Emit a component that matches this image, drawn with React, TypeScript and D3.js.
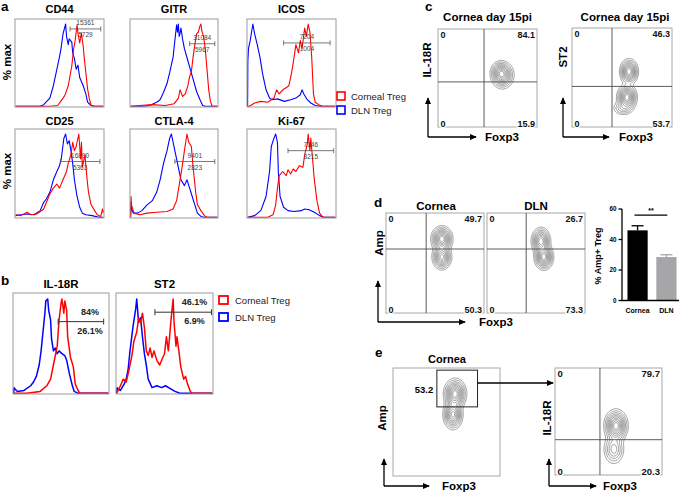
import React from 'react';
import * as d3 from 'd3';

const FONT = 'Liberation Sans, Arial, Helvetica, sans-serif';
const RED = '#ff0000';
const BLUE = '#0000ff';

// ---------- Panel a: histograms, [x (% of axis), % max] ----------
const cd44Corneal = [[0,0],[39,0],[48,1],[56,13],[60,25],[64,49],[66,69],[68,81],[70,99],[71,89],[73,77],[75,89],[77,73],[78,61],[80,41],[82,21],[84,9],[86,1],[90,0],[100,0]];
const cd44DLN = [[0,0],[28,0],[32,2],[39,10],[43,25],[47,45],[50,60],[52,72],[54,88],[57,100],[58,85],[60,75],[61,82],[64,78],[65,65],[67,58],[69,45],[71,50],[73,35],[77,25],[80,15],[82,5],[86,1],[90,0],[100,0]];
const gitrCorneal = [[0,0],[10,1],[25,2],[40,1],[50,3],[55,10],[57,20],[60,12],[63,15],[66,25],[68,36],[70,42],[72,60],[74,75],[76,88],[78,90],[80,98],[81,100],[82,92],[84,85],[86,70],[88,45],[90,20],[92,6],[94,0],[100,0]];
const gitrDLN = [[0,0],[15,0],[22,1],[30,5],[34,8],[38,17],[42,28],[45,41],[49,60],[51,80],[53,99],[54,90],[55,100],[56,85],[57,89],[58,95],[60,81],[62,70],[65,59],[68,48],[72,33],[76,18],[80,8],[83,1],[86,0],[100,0]];
const icosCorneal = [[0,0],[2,0],[8,4],[15,6],[23,5],[30,10],[33,20],[36,15],[40,20],[43,22],[47,25],[50,40],[53,60],[55,75],[58,65],[60,80],[62,70],[65,95],[67,85],[69,100],[71,90],[73,60],[75,15],[77,5],[81,2],[85,0],[100,0]];
const icosDLN = [[0,0],[0.3,55],[1,70],[3,80],[6,100],[8,88],[11,75],[14,60],[17,40],[21,20],[25,10],[28,8],[34,9],[42,6],[49,8],[55,10],[60,14],[62,20],[64,15],[68,8],[72,4],[77,1],[83,0],[100,0]];
const cd25Corneal = [[0,3],[6,2],[13,6],[17,3],[24,4],[32,10],[39,28],[43,35],[47,40],[50,35],[54,45],[58,55],[60,65],[63,75],[65,90],[67,80],[69,85],[72,100],[74,70],[75,90],[76,60],[79,75],[81,50],[83,30],[86,15],[90,8],[93,3],[97,1],[99,10],[100,5]];
const cd25DLN = [[0,2],[6,3],[13,4],[21,3],[28,8],[32,18],[35,22],[39,30],[43,45],[47,55],[50,62],[52,70],[55,95],[57,100],[59,88],[61,92],[63,80],[65,65],[67,45],[70,25],[73,12],[76,5],[80,3],[87,2],[95,0],[100,0]];
const ctla4Corneal = [[0,0],[0.5,25],[1,15],[4,5],[11,3],[19,5],[30,6],[42,7],[49,10],[53,20],[57,45],[60,65],[62,80],[65,100],[67,90],[70,85],[72,60],[75,30],[77,15],[81,8],[85,2],[88,0],[100,0]];
const ctla4DLN = [[0,0],[0.5,18],[1,10],[3,5],[8,5],[13,8],[19,15],[25,20],[30,30],[34,45],[38,65],[42,80],[45,95],[47,100],[49,90],[52,75],[55,60],[58,45],[62,38],[65,45],[68,35],[71,25],[74,15],[77,5],[81,1],[85,0],[100,0]];
const ki67Corneal = [[0,0],[23,0],[29,3],[32,15],[34,35],[36,50],[40,55],[44,50],[46,57],[49,52],[52,58],[55,55],[59,62],[63,60],[65,75],[68,88],[69,100],[71,80],[72,95],[74,70],[76,45],[79,20],[82,5],[86,0],[100,0]];
const ki67DLN = [[0,0],[8,2],[15,8],[21,25],[25,55],[27,85],[30,95],[32,100],[34,90],[35,55],[37,25],[41,12],[46,8],[53,7],[61,8],[65,10],[70,9],[76,6],[82,2],[87,0],[100,0]];

const markersA = ['CD44', 'GITR', 'ICOS', 'CD25', 'CTLA-4', 'Ki-67'];
const gateRangesA = [[62,97],[68,97],[41,94],[51,96],[51,97],[46,98]];
const gateLevelsA = [94, 76, 77, 67, 67, 80];
const gateLabelsA = [['15361','5729'],['31084','5967'],['7204','1004'],['16890','5363'],['9401','2823'],['7146','3215']];

// ---------- Panel b ----------
const il18rCorneal = [[0,0],[14,0],[28,2],[35,8],[39,15],[42,30],[46,50],[48,78],[50,95],[51,100],[53,85],[54,98],[56,88],[57,60],[60,38],[63,28],[65,10],[68,3],[70,0],[100,0]];
const il18rDLN = [[0,0],[0.5,6],[1,5],[4,2],[11,3],[18,8],[21,12],[24,18],[27,30],[29,45],[31,65],[33,85],[34,98],[36,100],[37,88],[39,78],[40,58],[42,45],[44,48],[46,42],[48,45],[51,42],[54,40],[56,35],[59,20],[62,8],[64,2],[68,0],[100,0]];
const st2Corneal = [[0,0],[4,8],[7,15],[10,12],[13,25],[16,40],[18,55],[21,65],[23,80],[25,75],[27,85],[29,70],[31,45],[33,40],[35,48],[37,38],[39,45],[42,35],[45,30],[47,35],[50,42],[52,60],[54,45],[57,80],[59,100],[60,75],[62,50],[63,60],[65,45],[67,28],[70,15],[72,18],[74,10],[77,2],[79,0],[100,0]];
const st2DLN = [[0,0],[0.5,6],[1,5],[4,3],[8,10],[10,15],[12,25],[14,45],[17,70],[20,90],[21,100],[23,75],[25,80],[27,60],[29,42],[31,30],[33,15],[37,6],[42,8],[47,6],[51,8],[56,5],[61,2],[66,0],[100,0]];
const markersB = ['IL-18R', 'ST2'];
const gateRangesB = [[47,95],[40,99]];
const gateLevelsB = [76, 86];
const gateLabelsB = [['84%','26.1%'],['46.1%','6.9%']];

const legendLabels = ['Corneal Treg', 'DLN Treg'];

// ---------- Flow plots: quadrant values [TL, TR, BL, BR] ----------
const quadC1 = ['0', '84.1', '0', '15.9'];
const quadC2 = ['0', '46.3', '0', '53.7'];
const quadD1 = ['0', '49.7', '0', '50.3'];
const quadD2 = ['0', '26.7', '0', '73.3'];
const quadE2 = ['0', '79.7', '0', '20.3'];
const gateE1 = '53.2';
// quadrant split (x %, y %)
const splitC1 = [46.5, 46];
const splitC2 = [40, 41];
const splitD1 = [41, 64];
const splitD2 = [40, 64];
const splitE2 = [42, 33];
const gateRectE1 = [41, 79, 64, 98]; // x0,x1,y0,y1 in %
// density blobs: [cx, cy, sx, sy, weight] in % units
const blobsC1 = [[65, 53, 5, 6, 1], [62, 57, 4, 4.5, 0.3]];
const blobsC2 = [[57, 56, 4, 5.5, 0.9], [55, 30, 4.3, 5.5, 1], [51, 19, 5, 3.5, 0.25]];
const blobsD1 = [[57, 74, 4.7, 5.5, 1], [57, 56, 4.3, 5.5, 0.85]];
const blobsD2 = [[55, 72, 4.2, 5.8, 0.9], [58, 56, 4.2, 5.5, 1]];
const blobsE1 = [[58, 76, 4.5, 6, 1], [56, 57, 4, 6, 0.85]];
const blobsE2 = [[57, 46, 4.7, 6.5, 1], [55, 24, 4.5, 6.5, 0.4]];
const contourLevels = [0.05, 0.1, 0.17, 0.25, 0.34, 0.44, 0.55, 0.67, 0.79, 0.9];

// ---------- Panel d bar chart ----------
const barCategories = ['Cornea', 'DLN'];
const barValues = [46, 28.5];
const barErrors = [3, 1.5];
const barTicks = [0, 20, 40, 60];
const sigLabel = '**';

type Box = { x: number; y: number; w: number; h: number };

function Hist({ box, curves, title, titleY, gateR, gateL, labels, lw, top, bold, gateFrac }: any) {
  const xs = d3.scaleLinear().domain([0, 100]).range([box.x + 0.6, box.x + box.w - 0.6]);
  const ys = d3.scaleLinear().domain([0, 100]).range([box.y + box.h - 0.7, box.y + top]);
  const line = d3.line<number[]>().x(d => xs(d[0])).y(d => ys(d[1]));
  const gx1 = xs(gateR[0]), gx2 = xs(gateR[1]), gy = ys(gateL);
  const tx = gx1 + (gx2 - gx1) * gateFrac;
  const tick = bold ? 3 : 2.5;
  return (
    <g>
      <text x={box.x + box.w / 2} y={titleY} textAnchor="middle" fontSize={bold ? 11.5 : 11} fontWeight="bold" fill="#000">{title}</text>
      {curves.map((c: any, i: number) => (
        <path key={i} d={line(c.data) as string} fill="none" stroke={c.color} strokeWidth={lw} strokeLinejoin="round" />
      ))}
      <rect x={box.x} y={box.y} width={box.w} height={box.h} fill="none" stroke="#9a9a9a" strokeWidth={1} />
      <line x1={gx1} x2={gx2} y1={gy} y2={gy} stroke={bold ? '#333' : '#555'} strokeWidth={bold ? 1 : 0.8} />
      <line x1={gx1} x2={gx1} y1={gy - tick} y2={gy + tick} stroke={bold ? '#333' : '#555'} strokeWidth={bold ? 1 : 0.8} />
      <line x1={gx2} x2={gx2} y1={gy - tick} y2={gy + tick} stroke={bold ? '#333' : '#555'} strokeWidth={bold ? 1 : 0.8} />
      <text x={tx} y={gy - (bold ? 7 : 3.5)} textAnchor="middle" fontSize={bold ? 9 : 6.5} fontWeight={bold ? 'bold' : 'normal'} fill={bold ? '#222' : '#444'}>{labels[0]}</text>
      <text x={tx} y={gy + (bold ? 12 : 8.5)} textAnchor="middle" fontSize={bold ? 9 : 6.5} fontWeight={bold ? 'bold' : 'normal'} fill={bold ? '#222' : '#444'}>{labels[1]}</text>
    </g>
  );
}

function contourPaths(blobs: number[][], box: Box) {
  const n = 100, m = 100;
  const vals: number[] = new Array(n * m);
  for (let j = 0; j < m; j++) {
    for (let i = 0; i < n; i++) {
      const x = i + 0.5, y = 100 - (j + 0.5);
      let v = 0;
      for (const b of blobs) {
        const dx = (x - b[0]) / b[2], dy = (y - b[1]) / b[3];
        v += b[4] * Math.exp(-0.5 * (dx * dx + dy * dy));
      }
      vals[j * n + i] = v;
    }
  }
  const mx = d3.max(vals) as number;
  const cs = d3.contours().size([n, m]).thresholds(contourLevels.map(t => t * mx))(vals);
  const proj = d3.geoTransform({
    point(x: number, y: number) {
      (this as any).stream.point(box.x + (x * box.w) / n, box.y + (y * box.h) / m);
    },
  });
  const path = d3.geoPath(proj);
  return cs.map(c => path(c as any) as string);
}

function Facs({ box, blobs, split, quad, nfs }: any) {
  const xs = d3.scaleLinear().domain([0, 100]).range([box.x, box.x + box.w]);
  const ys = d3.scaleLinear().domain([0, 100]).range([box.y + box.h, box.y]);
  const paths = contourPaths(blobs, box);
  const fs = nfs || 9;
  return (
    <g>
      <rect x={box.x} y={box.y} width={box.w} height={box.h} fill="#fff" stroke="#a8a8a8" strokeWidth={1} />
      {paths.map((d: string, i: number) => (
        <path key={i} d={d} fill="none" stroke="#555" strokeWidth={0.55} />
      ))}
      {split && (
        <g stroke="#4a4a4a" strokeWidth={0.9}>
          <line x1={xs(split[0])} x2={xs(split[0])} y1={box.y} y2={box.y + box.h} />
          <line x1={box.x} x2={box.x + box.w} y1={ys(split[1])} y2={ys(split[1])} />
        </g>
      )}
      {quad && (
        <g fontSize={fs} fontWeight="bold" fill="#111">
          <text x={box.x + 2.5} y={box.y + 9}>{quad[0]}</text>
          <text x={box.x + box.w - 2} y={box.y + 9} textAnchor="end">{quad[1]}</text>
          <text x={box.x + 2.5} y={box.y + box.h - 0.5} stroke="#fff" strokeWidth={2.5} paintOrder="stroke">{quad[2]}</text>
          <text x={box.x + box.w - 2} y={box.y + box.h - 0.5} textAnchor="end" stroke="#fff" strokeWidth={2.5} paintOrder="stroke">{quad[3]}</text>
        </g>
      )}
    </g>
  );
}

function Axes({ x, y, up, right, labelX, labelY }: any) {
  return (
    <g>
      <line x1={x} x2={x} y1={y} y2={up + 1} stroke="#000" strokeWidth={1.3} markerEnd="url(#arr)" />
      <line x1={x} x2={right - 1} y1={y} y2={y} stroke="#000" strokeWidth={1.3} markerEnd="url(#arr)" />
      <text x={labelX} y={labelY} fontSize={11.5} fontWeight="bold">Foxp3</text>
    </g>
  );
}

function YLabel({ x, y, text, fs }: any) {
  return (
    <text transform={`translate(${x},${y}) rotate(-90)`} textAnchor="middle" dy="0.35em" fontSize={fs || 11.5} fontWeight="bold">{text}</text>
  );
}

export default function App() {
  const rowA = [
    { x: 15, w: 89 }, { x: 130, w: 88 }, { x: 247, w: 89 },
  ];
  const curvesA = [
    [cd44Corneal, cd44DLN], [gitrCorneal, gitrDLN], [icosCorneal, icosDLN],
    [cd25Corneal, cd25DLN], [ctla4Corneal, ctla4DLN], [ki67Corneal, ki67DLN],
  ];
  const boxesB = [{ x: 13, y: 293, w: 96, h: 101 }, { x: 116, y: 293, w: 97, h: 101 }];
  const curvesB = [[il18rCorneal, il18rDLN], [st2Corneal, st2DLN]];

  // bar chart scales
  const yBar = d3.scaleLinear().domain([0, 60]).range([300.5, 209]);
  const xBar = d3.scaleBand().domain(barCategories).range([624, 680]).paddingInner(0.3).paddingOuter(0.12);
  const barFill = ['#000000', '#a6a6a8'];

  const boxE1 = { x: 393, y: 368, w: 107, h: 108 };
  const gx0 = boxE1.x + (gateRectE1[0] / 100) * boxE1.w;
  const gx1 = boxE1.x + (gateRectE1[1] / 100) * boxE1.w;
  const gy0 = boxE1.y + boxE1.h - (gateRectE1[3] / 100) * boxE1.h;
  const gy1 = boxE1.y + boxE1.h - (gateRectE1[2] / 100) * boxE1.h;

  return (
    <svg width={685} height={493} style={{ position: 'absolute', left: 0, top: 0, background: '#fff' }} fontFamily={FONT}>
      <defs>
        <marker id="arr" viewBox="0 0 8 8" refX="7" refY="4" markerWidth="7" markerHeight="7" markerUnits="userSpaceOnUse" orient="auto">
          <path d="M0,0.5 L8,4 L0,7.5 Z" fill="#000" />
        </marker>
      </defs>
      <rect width={685} height={493} fill="#fff" />

      {/* Panel letters */}
      <g fontSize={13.5} fontWeight="bold">
        <text x={1} y={11}>a</text>
        <text x={1} y={285}>b</text>
        <text x={425} y={11}>c</text>
        <text x={374} y={207}>d</text>
        <text x={375} y={357}>e</text>
      </g>

      {/* Panel a */}
      <YLabel x={7} y={62} text="% max" />
      <YLabel x={7} y={171} text="% max" />
      {markersA.map((mk, i) => {
        const r = Math.floor(i / 3), c = i % 3;
        const box = { x: rowA[c].x, y: r === 0 ? 19 : 129, w: rowA[c].w, h: r === 0 ? 88 : 89 };
        return (
          <Hist key={mk} box={box} title={mk} titleY={r === 0 ? 13 : 125}
            curves={[{ data: curvesA[i][1], color: BLUE }, { data: curvesA[i][0], color: RED }]}
            gateR={gateRangesA[i]} gateL={gateLevelsA[i]} labels={gateLabelsA[i]} lw={1.1} top={5} bold={false} gateFrac={0.5} />
        );
      })}
      {/* legend a */}
      <g>
        <rect x={337} y={92} width={8} height={8} fill="#fff" stroke={RED} strokeWidth={1.6} />
        <rect x={337} y={106} width={8} height={8} fill="#fff" stroke={BLUE} strokeWidth={1.6} />
        <text x={351} y={99.5} fontSize={9.5} fill="#222">{legendLabels[0]}</text>
        <text x={351} y={113.5} fontSize={9.5} fill="#222">{legendLabels[1]}</text>
      </g>

      {/* Panel b */}
      {markersB.map((mk, i) => (
        <Hist key={mk} box={boxesB[i]} title={mk} titleY={288}
          curves={[{ data: curvesB[i][1], color: BLUE }, { data: curvesB[i][0], color: RED }]}
          gateR={gateRangesB[i]} gateL={gateLevelsB[i]} labels={gateLabelsB[i]} lw={1.5} top={6} bold={true} gateFrac={0.7} />
      ))}
      <g>
        <rect x={219} y={296} width={9} height={8} fill="#fff" stroke={RED} strokeWidth={1.8} />
        <rect x={219} y={313} width={9} height={8} fill="#fff" stroke={BLUE} strokeWidth={1.8} />
        <text x={235} y={303.5} fontSize={9.5} fill="#222">{legendLabels[0]}</text>
        <text x={235} y={320.5} fontSize={9.5} fill="#222">{legendLabels[1]}</text>
      </g>

      {/* Panel c */}
      <text x={487.5} y={21} textAnchor="middle" fontSize={11.5} fontWeight="bold">Cornea  day 15pi</text>
      <text x={625} y={21} textAnchor="middle" fontSize={11.5} fontWeight="bold">Cornea  day 15pi</text>
      <Facs box={{ x: 438, y: 29, w: 99, h: 98 }} blobs={blobsC1} split={splitC1} quad={quadC1} />
      <Facs box={{ x: 572, y: 28, w: 100, h: 99 }} blobs={blobsC2} split={splitC2} quad={quadC2} />
      <YLabel x={427} y={60} text="IL-18R" />
      <YLabel x={563} y={57} text="ST2" />
      <Axes x={428} y={137} up={97} right={477} labelX={485} labelY={140.5} />
      <Axes x={563} y={137} up={97} right={610} labelX={619} labelY={140.5} />

      {/* Panel d */}
      <text x={436} y={210} textAnchor="middle" fontSize={11.5} fontWeight="bold">Cornea</text>
      <text x={536} y={210} textAnchor="middle" fontSize={11.5} fontWeight="bold">DLN</text>
      <Facs box={{ x: 386, y: 213, w: 98, h: 100 }} blobs={blobsD1} split={splitD1} quad={quadD1} />
      <Facs box={{ x: 487, y: 213, w: 98, h: 100 }} blobs={blobsD2} split={splitD2} quad={quadD2} />
      <YLabel x={379} y={243} text="Amp" />
      <Axes x={378} y={322} up={280} right={466} labelX={479} labelY={325.5} />

      {/* bar chart */}
      <g>
        {barCategories.map((c, i) => {
          const x0 = xBar(c) as number;
          const bw = xBar.bandwidth();
          const top = yBar(barValues[i]);
          const et = yBar(barValues[i] + barErrors[i]);
          return (
            <g key={c}>
              <rect x={x0} y={top} width={bw} height={yBar(0) - top} fill={barFill[i]} />
              <line x1={x0 + bw / 2} x2={x0 + bw / 2} y1={top} y2={et} stroke={barFill[i]} strokeWidth={1.3} />
              <line x1={x0 + bw / 2 - 6} x2={x0 + bw / 2 + 6} y1={et} y2={et} stroke={barFill[i]} strokeWidth={1.3} />
              <text x={x0 + bw / 2} y={313} textAnchor="middle" fontSize={7} fontWeight="bold">{c}</text>
            </g>
          );
        })}
        <line x1={622} x2={622} y1={yBar(60)} y2={yBar(0)} stroke="#000" strokeWidth={1.3} />
        <line x1={621.4} x2={679} y1={yBar(0)} y2={yBar(0)} stroke="#000" strokeWidth={1.3} />
        {barTicks.map(t => (
          <g key={t}>
            <line x1={618.5} x2={622} y1={yBar(t)} y2={yBar(t)} stroke="#000" strokeWidth={1.3} />
            <text x={616.5} y={yBar(t)} dy="0.35em" textAnchor="end" fontSize={6.3} fontWeight="bold">{t}</text>
          </g>
        ))}
        <line x1={(xBar('Cornea') as number) + 7} x2={(xBar('DLN') as number) + 11} y1={yBar(56)} y2={yBar(56)} stroke="#000" strokeWidth={1.2} />
        <text x={((xBar('Cornea') as number) + (xBar('DLN') as number) + 18) / 2} y={yBar(56) - 2} textAnchor="middle" fontSize={7} fontWeight="bold">{sigLabel}</text>
        <YLabel x={598} y={256} text="% Amp+ Treg" fs={9} />
      </g>

      {/* Panel e */}
      <text x={447} y={363} textAnchor="middle" fontSize={11} fontWeight="bold">Cornea</text>
      <Facs box={boxE1} blobs={blobsE1} split={null} quad={null} />
      <rect x={gx0} y={gy0} width={gx1 - gx0} height={gy1 - gy0} fill="none" stroke="#222" strokeWidth={1} />
      <text x={424} y={392.5} textAnchor="middle" fontSize={9.5} fontWeight="bold">{gateE1}</text>
      <line x1={gx1} x2={553} y1={383} y2={383} stroke="#000" strokeWidth={1.3} markerEnd="url(#arr)" />
      <Facs box={{ x: 555, y: 368, w: 107, h: 107 }} blobs={blobsE2} split={splitE2} quad={quadE2} nfs={9.5} />
      <YLabel x={382} y={418} text="Amp" />
      <YLabel x={547} y={418} text="IL-18R" />
      <Axes x={384} y={486} up={458} right={430} labelX={442} labelY={490} />
      <Axes x={549} y={486} up={458} right={597} labelX={603} labelY={490} />
    </svg>
  );
}
